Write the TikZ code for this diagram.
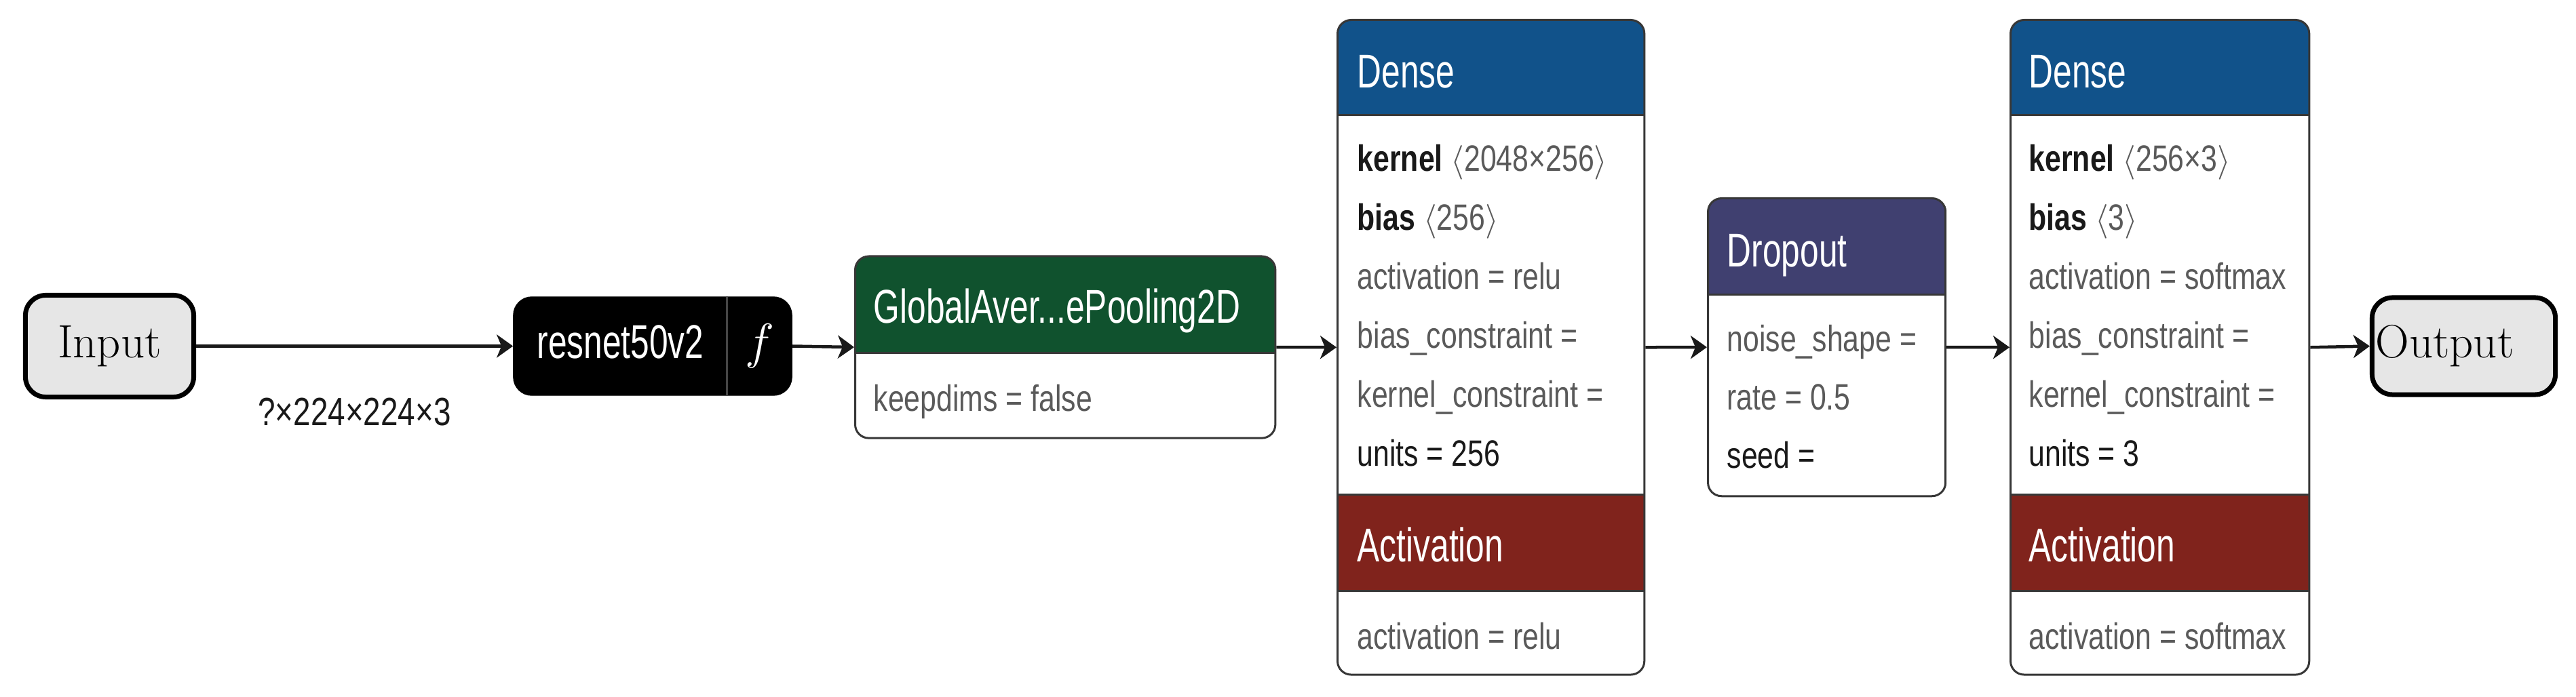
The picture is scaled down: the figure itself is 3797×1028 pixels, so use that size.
\documentclass[tikz,border=0pt]{standalone}
\usepackage{fontspec}
\usetikzlibrary{arrows.meta}
\newfontfamily\cardfont[FakeStretch=0.79]{Liberation Sans}
\newfontfamily\headfont[FakeStretch=0.71]{Liberation Sans}
\definecolor{densec}{RGB}{17,82,138}
\definecolor{actc}{RGB}{128,35,28}
\definecolor{poolc}{RGB}{16,82,46}
\definecolor{dropc}{RGB}{64,64,112}
\definecolor{cardline}{RGB}{55,55,55}
\definecolor{attrgrey}{RGB}{90,90,90}
\definecolor{attrdark}{RGB}{25,25,25}
\definecolor{iofill}{RGB}{230,230,230}
\begin{document}
\begin{tikzpicture}
[x=0.01cm, y=-0.01cm,
>={Stealth[length=0.24cm, width=0.34cm, inset=0.07cm]},
flow/.style={->, line width=0.045cm, draw=attrdark},
iobox/.style={draw=black, line width=0.07cm, fill=iofill, rounded corners=0.3cm, font=\fontsize{19.6pt}{22pt}\selectfont},
card/.style={draw=cardline, line width=0.03cm, fill=white, rounded corners=0.2cm, inner sep=0, anchor=north west},
head/.style={path picture={
  \fill[#1, sharp corners] (path picture bounding box.north west) rectangle ([yshift=-1.42cm]path picture bounding box.north east);
  \draw[cardline, line width=0.03cm, sharp corners] ([yshift=-1.42cm]path picture bounding box.north west) -- ([yshift=-1.42cm]path picture bounding box.north east);}},
densehead/.style={path picture={
  \fill[densec, sharp corners] (path picture bounding box.north west) rectangle ([yshift=-1.40cm]path picture bounding box.north east);
  \fill[actc, sharp corners] ([yshift=-7.00cm]path picture bounding box.north west) rectangle ([yshift=-8.42cm]path picture bounding box.north east);
  \draw[cardline, line width=0.03cm, sharp corners] ([yshift=-1.40cm]path picture bounding box.north west) -- ([yshift=-1.40cm]path picture bounding box.north east);
  \draw[cardline, line width=0.03cm, sharp corners] ([yshift=-7.00cm]path picture bounding box.north west) -- ([yshift=-7.00cm]path picture bounding box.north east);
  \draw[cardline, line width=0.03cm, sharp corners] ([yshift=-8.42cm]path picture bounding box.north west) -- ([yshift=-8.42cm]path picture bounding box.north east);}},
headtxt/.style={font=\headfont\fontsize{19.9pt}{24pt}\selectfont, text=white, inner sep=0, anchor=base west},
attr/.style={font=\cardfont\fontsize{15.4pt}{18pt}\selectfont, text=attrgrey, inner sep=0, anchor=base west},
lbl/.style={font=\cardfont\fontsize{16.5pt}{19pt}\selectfont, text=attrdark}]
  \useasboundingbox (0,0) rectangle (3797,1028);

  \node[iobox, minimum width=2.48cm, minimum height=1.50cm] (input) at (161.5,510.5) {Input};
  \node[fill=black, draw=black, rounded corners=0.27cm, minimum width=4.10cm, minimum height=1.45cm, inner xsep=0, text=white, font=\headfont\fontsize{19.9pt}{24pt}\selectfont] (resnet) at (962,510.5) {\makebox[3.15cm]{resnet50v2}\makebox[0.95cm]{$f$}};
  \draw[draw={rgb,255:red,70;green,70;blue,70}, line width=0.025cm] ([xshift=3.15cm]resnet.north west) -- ([xshift=3.15cm]resnet.south west);

  \node[card, head=poolc, minimum width=6.19cm, minimum height=2.68cm] (gap) at (1259,376.5) {};
  \node[headtxt] (gapt) at (1287,477) {GlobalAver...ePooling2D};
  \node[attr] (gapa) at (1287,607) {keepdims = false};

  \node[card, densehead, minimum width=4.52cm, minimum height=9.65cm] (dense1) at (1970,28) {};
  \node[headtxt] (d1t) at (2000,130) {Dense};
  \foreach \t [count=\i from 0] in {
    {\textcolor{attrdark}{\textbf{kernel}} $\langle$2048×256$\rangle$},
    {\textcolor{attrdark}{\textbf{bias}} $\langle$256$\rangle$},
    {activation = relu},
    {bias\_constraint =},
    {kernel\_constraint =},
    {\textcolor{attrdark}{units = 256}}}
    \node[attr] (d1a\i) at (2000,{253+87*\i}) {\t};
  \node[headtxt] (d1act) at (2000,828) {Activation};
  \node[attr] (d1b) at (2000,957) {activation = relu};

  \node[card, head=dropc, minimum width=3.50cm, minimum height=4.39cm] (drop) at (2516,291) {};
  \node[headtxt] (dpt) at (2545,394) {Dropout};
  \foreach \t [count=\i from 0] in {
    {noise\_shape =},
    {rate = 0.5},
    {\textcolor{attrdark}{seed =}}}
    \node[attr] (dpa\i) at (2545,{519+86*\i}) {\t};

  \node[card, densehead, minimum width=4.40cm, minimum height=9.65cm] (dense2) at (2962,28) {};
  \node[headtxt] (d2t) at (2990,130) {Dense};
  \foreach \t [count=\i from 0] in {
    {\textcolor{attrdark}{\textbf{kernel}} $\langle$256×3$\rangle$},
    {\textcolor{attrdark}{\textbf{bias}} $\langle$3$\rangle$},
    {activation = softmax},
    {bias\_constraint =},
    {kernel\_constraint =},
    {\textcolor{attrdark}{units = 3}}}
    \node[attr] (d2a\i) at (2990,{253+87*\i}) {\t};
  \node[headtxt] (d2act) at (2990,828) {Activation};
  \node[attr] (d2b) at (2990,957) {activation = softmax};

  \node[iobox, minimum width=2.70cm, minimum height=1.43cm, text width=2.60cm, inner xsep=0.05cm, align=left] (output) at (3631.5,510.5) {Output};

  \draw[flow] (input.east) -- node[below=0.62cm, lbl] (inshape) {?×224×224×3} (resnet.west);
  \draw[flow] (resnet.east) -- (gap.west);
  \draw[flow] (gap.east) -- (dense1.west);
  \draw[flow] (dense1.east) -- (drop.west);
  \draw[flow] (drop.east) -- (dense2.west);
  \draw[flow] (dense2.east) -- (output.west);
\end{tikzpicture}
\end{document}
